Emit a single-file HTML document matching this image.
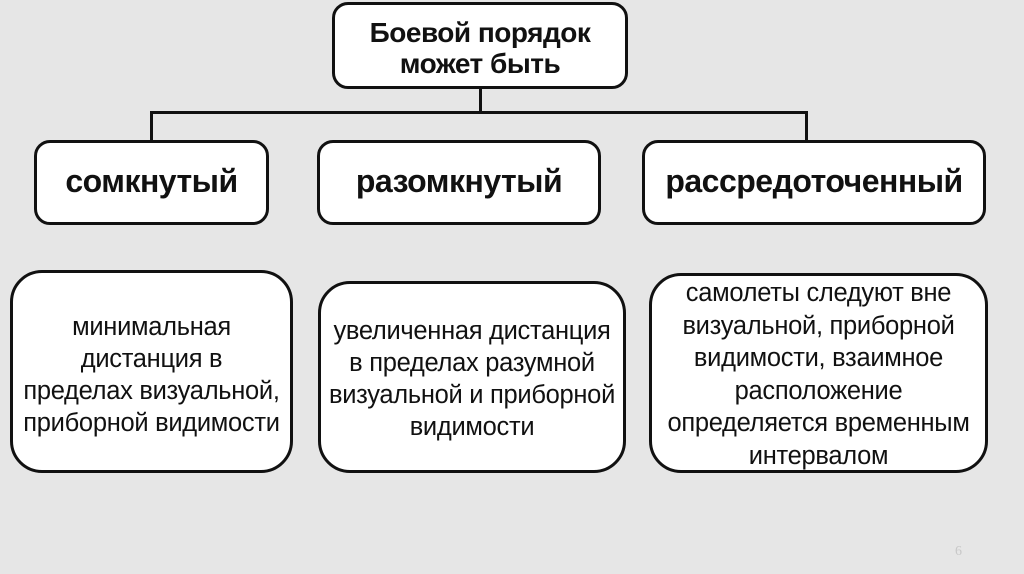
<!DOCTYPE html>
<html><head><meta charset="utf-8"><style>
body{margin:0;width:1024px;height:574px;background:#e6e6e6;position:relative;overflow:hidden;font-family:"Liberation Sans","DejaVu Sans",sans-serif;color:#111}
.b{position:absolute;box-sizing:border-box;border:3px solid #111;background:#fff;border-radius:16px;display:flex;align-items:center;justify-content:center;text-align:center;white-space:nowrap}
.t{font-weight:bold;font-size:32px;letter-spacing:-0.5px}
.s{font-size:25.5px;line-height:32px;letter-spacing:-0.3px}
.l{position:absolute;background:#111}
</style></head><body>
<div class="l" style="left:150px;top:111px;width:658px;height:3px"></div>
<div class="l" style="left:479px;top:86px;width:3px;height:27px"></div>
<div class="l" style="left:150px;top:111px;width:3px;height:31px"></div>
<div class="l" style="left:805px;top:111px;width:3px;height:31px"></div>
<div class="b" style="left:332px;top:2px;width:296px;height:87px;font-weight:bold;font-size:28px;line-height:31px;letter-spacing:-0.5px;padding-top:4px">Боевой порядок<br>может быть</div>
<div class="b t" style="left:34px;top:140px;width:235px;height:85px;padding-bottom:2px">сомкнутый</div>
<div class="b t" style="left:317px;top:140px;width:284px;height:85px;padding-bottom:2px">разомкнутый</div>
<div class="b t" style="left:642px;top:140px;width:344px;height:85px;padding-bottom:2px">рассредоточенный</div>
<div class="b s" style="left:10px;top:270px;width:283px;height:203px;border-radius:32px;padding-top:6px">минимальная<br>дистанция в<br>пределах визуальной,<br>приборной видимости</div>
<div class="b s" style="left:318px;top:281px;width:308px;height:192px;border-radius:32px;padding-top:4px">увеличенная дистанция<br>в пределах разумной<br>визуальной и приборной<br>видимости</div>
<div class="b s" style="left:649px;top:273px;width:339px;height:200px;border-radius:32px;align-items:flex-start;padding-top:1px;line-height:32.5px">самолеты следуют вне<br>визуальной, приборной<br>видимости, взаимное<br>расположение<br>определяется временным<br>интервалом</div>
<div style="position:absolute;left:955px;top:544px;font-size:14px;color:#c8c8c8;font-family:'Liberation Serif',serif">6</div>
</body></html>
